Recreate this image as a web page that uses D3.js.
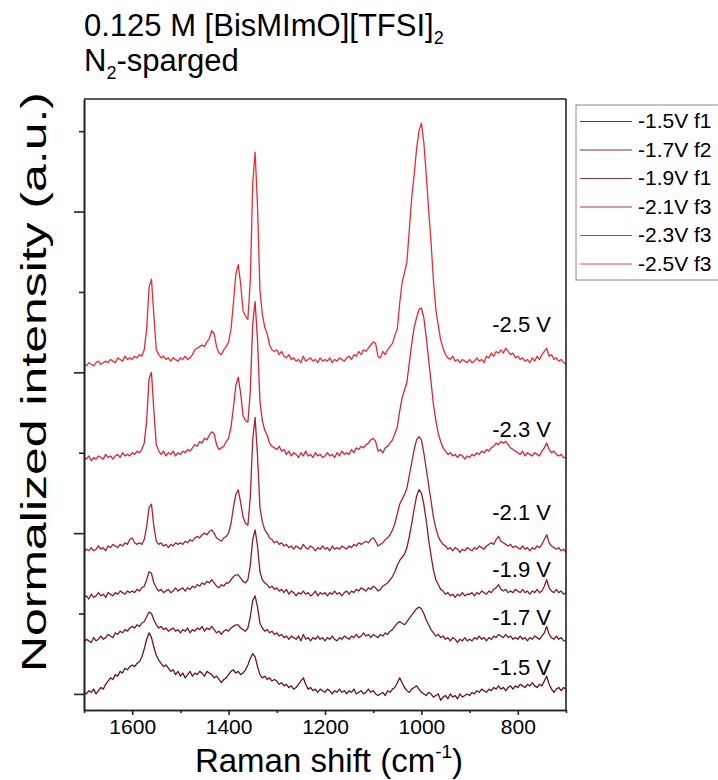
<!DOCTYPE html>
<html>
<head>
<meta charset="utf-8" />
<title>Raman spectra - BisMImO TFSI</title>
<script src="https://d3js.org/d3.v7.min.js"></script>
<style>
body { margin: 0; background: #fff; }
svg { font-family: "Liberation Sans", Arial, sans-serif; }
.axis path, .axis line { stroke: #222; }
.axis text { fill: #000; }
</style>
</head>
<body>
<div id="chart"></div>
<script>
// raman shift grid, 5 cm-1 steps from 1700 down to 700
var shifts = d3.range(1700, 699, -5);

var legendNames = ["-1.5V f1", "-1.7V f2", "-1.9V f1", "-2.1V f3", "-2.3V f3", "-2.5V f3"];
var curveLabels = ["-1.5 V", "-1.7 V", "-1.9 V", "-2.1 V", "-2.3 V", "-2.5 V"];
var colors = ["#6c1317", "#7c1a1f", "#8c1c23", "#aa232d", "#d62634", "#ee2a33"];
// vertical stacking offset of each spectrum, and where its label sits
var offsets = [1, 32, 60, 88, 146, 205];
var labelY = [12, 43, 73, 108, 160, 225];

var xMajor = [1600, 1400, 1200, 1000, 800];
var xMinor = [1700, 1500, 1300, 1100, 900, 700];
var yMajor = [0, 100, 200, 300];
var yMinor = [50, 150, 250, 350];

// intensities, one row per 100 cm-1
var spec15 = [
  0,-1,1,0,2,-1,1,3,2,5,7,9,8,11,10,13,12,15,14,16,
  17,16,18,19,22,27,33,37,34,28,23,20,18,16,17,15,13,14,11,13,
  10,12,9,11,13,10,12,11,13,12,10,13,12,11,9,10,8,6,8,9,
  11,13,14,12,13,11,12,14,17,21,24,22,16,11,9,10,8,9,7,8,
  7,5,6,4,5,3,4,2,3,5,7,9,5,2,3,1,2,0,2,1,
  0,2,1,-1,1,0,2,0,1,-1,1,0,2,-1,0,1,-1,0,2,0,
  1,-1,-2,-1,0,-2,1,0,2,3,6,9,6,3,1,0,2,3,4,2,
  0,-1,-2,0,-1,-3,-2,-1,-5,-3,-2,-4,-1,-3,-2,-4,-1,-3,-2,-1,
  -2,0,-1,1,0,2,1,0,2,1,3,2,4,2,3,1,3,4,2,4,
  3,5,4,3,5,4,6,4,3,5,4,7,10,5,2,0,2,3,1,3,2
];
var spec17 = [
  0,2,1,0,3,1,2,4,2,3,5,4,3,6,5,7,6,8,7,9,
  10,9,11,10,12,13,16,19,18,14,11,9,10,8,9,7,8,9,7,8,
  6,8,7,9,6,8,7,9,8,10,7,9,8,10,8,6,7,5,7,8,
  7,9,10,11,11,9,8,7,9,16,26,29,22,12,9,7,8,6,7,5,
  6,4,5,3,4,2,4,3,2,4,1,5,2,3,1,3,2,4,2,3,
  1,3,2,4,2,1,3,2,4,3,2,4,3,5,3,4,6,4,5,3,
  5,4,3,5,4,6,5,7,8,10,12,13,12,11,13,15,17,19,21,22,
  21,18,14,11,8,6,4,5,3,4,2,3,1,3,2,0,2,1,3,1,
  2,1,3,2,4,2,3,1,3,2,4,3,5,4,3,5,3,4,2,3,
  2,4,2,3,1,3,2,4,3,2,4,6,10,5,3,2,4,2,3,1,1
];
var spec19 = [
  0,1,-1,2,0,1,3,1,2,0,3,2,1,3,2,4,3,2,4,3,
  4,3,5,4,6,7,11,16,15,9,6,4,5,3,4,5,3,4,6,4,
  5,6,4,6,5,7,6,8,7,9,8,10,9,11,9,7,6,8,7,9,
  9,11,13,14,14,12,10,9,11,20,36,42,32,16,11,9,8,6,7,5,
  6,4,5,3,5,2,4,3,1,3,2,4,2,3,1,2,4,1,3,2,
  3,1,3,2,4,2,3,1,3,4,2,4,3,5,4,6,5,4,6,5,
  7,6,4,5,7,8,9,11,13,16,20,23,25,27,31,38,46,55,63,67,
  65,58,48,36,26,17,11,8,5,4,2,3,1,2,0,2,1,3,1,2,
  2,3,1,3,2,4,3,2,4,3,5,6,8,5,4,5,3,4,3,5,
  4,3,5,3,4,2,4,3,5,3,4,7,11,6,4,3,5,3,4,2,3
];
var spec21 = [
  0,2,1,3,1,2,4,2,3,1,4,3,5,4,3,5,4,6,5,8,
  9,6,5,6,5,8,16,28,30,16,7,5,6,4,5,3,5,4,6,5,
  6,5,7,6,8,7,9,10,9,11,12,11,13,14,12,9,8,7,9,10,
  12,18,28,36,39,31,22,18,17,34,70,84,60,28,19,14,12,9,8,6,
  7,5,6,4,5,3,4,2,4,3,2,5,3,2,4,3,1,3,2,4,
  2,3,1,4,2,3,2,4,3,2,4,3,5,4,6,5,6,7,6,8,
  9,7,4,5,6,8,9,11,14,18,24,30,33,36,40,48,56,64,70,72,
  70,62,52,42,32,22,15,10,7,5,4,2,3,1,3,2,0,2,1,3,
  2,1,3,2,4,3,2,4,5,6,5,8,10,7,6,5,4,5,3,4,
  3,2,4,2,3,1,3,2,4,3,5,8,11,6,4,3,2,3,1,2,0
];
var spec23 = [
  1,0,2,-1,1,0,2,1,0,3,1,2,0,2,3,1,4,2,3,2,
  4,3,5,4,6,10,24,50,54,30,9,5,3,5,2,4,3,5,2,4,
  3,5,4,6,5,7,9,8,11,10,13,12,15,17,16,9,6,7,8,11,
  13,20,32,46,51,41,27,24,23,42,84,98,74,36,24,18,15,10,8,7,
  6,8,5,6,3,5,2,4,3,1,4,2,5,2,3,1,4,2,3,1,
  2,4,2,3,1,4,2,5,3,4,3,6,4,7,6,8,7,9,10,12,
  13,11,5,6,4,7,8,10,12,16,20,30,38,43,48,60,72,82,88,93,
  94,88,76,62,48,34,24,16,11,7,5,3,4,2,3,1,3,2,0,2,
  1,3,2,4,3,5,4,6,5,7,8,10,9,11,10,11,9,7,6,5,
  4,3,5,2,4,3,2,4,3,2,5,7,10,6,4,5,3,2,3,1,1
];
var spec25 = [
  0,-1,1,0,-1,1,2,0,1,2,1,3,2,1,4,3,2,5,3,4,
  3,5,4,6,5,9,22,48,53,30,9,6,4,5,3,4,2,4,3,2,
  4,3,5,3,4,6,9,10,11,12,11,14,16,21,19,11,7,6,9,11,
  14,22,38,56,62,50,33,30,28,52,112,132,98,46,31,23,19,12,9,8,
  9,6,8,5,4,6,3,4,2,3,1,5,2,3,4,2,3,1,4,2,
  3,2,4,1,3,2,4,3,2,4,5,3,6,5,8,6,9,8,10,12,
  14,13,5,4,8,6,9,11,13,18,22,38,51,57,64,84,104,118,134,145,
  150,138,118,96,76,52,34,24,15,10,6,4,3,5,2,3,1,3,2,1,
  3,1,2,4,2,3,1,5,4,7,5,8,7,9,7,10,8,6,7,4,
  5,3,4,2,3,1,4,2,5,3,6,8,10,5,6,3,4,2,3,1,0
];
var spectra = [spec15, spec17, spec19, spec21, spec23, spec25];

var width = 718, height = 780;
var x = d3.scaleLinear().domain([1700, 700]).range([84, 566]);
var y = d3.scaleLinear().domain([-10, 370]).range([710, 99]);

var svg = d3.select("#chart").append("svg")
    .attr("width", width)
    .attr("height", height);

// title
var t1 = svg.append("text").attr("x", 84).attr("y", 36).attr("font-size", 31);
t1.append("tspan").text("0.125 M [BisMImO][TFSI]");
t1.append("tspan").attr("font-size", 18).attr("dy", 8).text("2");
var t2 = svg.append("text").attr("x", 84).attr("y", 71).attr("font-size", 31);
t2.append("tspan").text("N");
t2.append("tspan").attr("font-size", 18).attr("dy", 8).text("2");
t2.append("tspan").attr("dy", -8).text("-sparged");

// spectra
var line = d3.line()
    .x(function(d, i) { return x(shifts[i]); })
    .y(function(d) { return y(d); });

svg.append("g").attr("id", "spectra").selectAll("path")
    .data(spectra)
    .enter().append("path")
    .attr("d", function(s, k) { return line(s.map(function(v) { return v + offsets[k]; })); })
    .attr("fill", "none")
    .attr("stroke", function(s, k) { return colors[k]; })
    .attr("stroke-width", 1.3)
    .attr("stroke-linejoin", "round");

svg.append("g").selectAll("text")
    .data(curveLabels)
    .enter().append("text")
    .attr("x", 551)
    .attr("y", function(d, k) { return y(labelY[k]); })
    .attr("text-anchor", "end")
    .attr("font-size", 22)
    .text(function(d) { return d; });

// axes
var xAxis = svg.append("g").attr("class", "axis")
    .attr("transform", "translate(0,710)")
    .call(d3.axisBottom(x).tickValues(xMajor).tickSize(5).tickSizeOuter(0).tickPadding(4).tickFormat(d3.format("d")));
xAxis.selectAll("text").attr("font-size", 21);
svg.append("g").attr("class", "axis")
    .attr("transform", "translate(0,710)")
    .call(d3.axisBottom(x).tickValues(xMinor).tickSize(3).tickSizeOuter(0).tickFormat(""));
svg.append("g").attr("class", "axis")
    .attr("transform", "translate(84,0)")
    .call(d3.axisLeft(y).tickValues(yMajor).tickSize(10).tickSizeOuter(0).tickFormat(""));
svg.append("g").attr("class", "axis")
    .attr("transform", "translate(84,0)")
    .call(d3.axisLeft(y).tickValues(yMinor).tickSize(5).tickSizeOuter(0).tickFormat(""));
svg.selectAll(".axis path, .axis line").attr("stroke-width", 1.6);

// top and right frame
svg.append("line").attr("x1", 84).attr("x2", 566).attr("y1", 99).attr("y2", 99)
    .attr("stroke", "#222").attr("stroke-width", 1.6);
svg.append("line").attr("x1", 566).attr("x2", 566).attr("y1", 99).attr("y2", 710)
    .attr("stroke", "#222").attr("stroke-width", 1.6);

// axis titles
var xt = svg.append("text").attr("x", 329).attr("y", 772)
    .attr("text-anchor", "middle").attr("font-size", 33);
xt.append("tspan").text("Raman shift (cm");
xt.append("tspan").attr("font-size", 19).attr("dy", -14).text("-1");
xt.append("tspan").attr("dy", 14).text(")");

svg.append("text")
    .attr("transform", "translate(46,382) rotate(-90)")
    .attr("text-anchor", "middle")
    .attr("font-size", 35)
    .attr("textLength", 580)
    .attr("lengthAdjust", "spacingAndGlyphs")
    .text("Normalized intensity (a.u.)");

// legend
var legend = svg.append("g").attr("transform", "translate(576,105)");
legend.append("rect")
    .attr("width", 160).attr("height", 175)
    .attr("fill", "#fff").attr("stroke", "#888").attr("stroke-width", 1);
var items = legend.selectAll("g.item")
    .data(legendNames)
    .enter().append("g")
    .attr("class", "item")
    .attr("transform", function(d, i) { return "translate(0," + Math.round(16 + i * 28.6) + ")"; });
items.append("line")
    .attr("x1", 4).attr("x2", 56)
    .attr("y1", function(d, i) { return i % 2 ? 0 : 0.5; })
    .attr("y2", function(d, i) { return i % 2 ? 0 : 0.5; })
    .attr("stroke", function(d, i) { return colors[i]; })
    .attr("stroke-width", 0.9);
items.append("text")
    .attr("x", 62).attr("y", 7)
    .attr("font-size", 21)
    .text(function(d) { return d; });
</script>
</body>
</html>
